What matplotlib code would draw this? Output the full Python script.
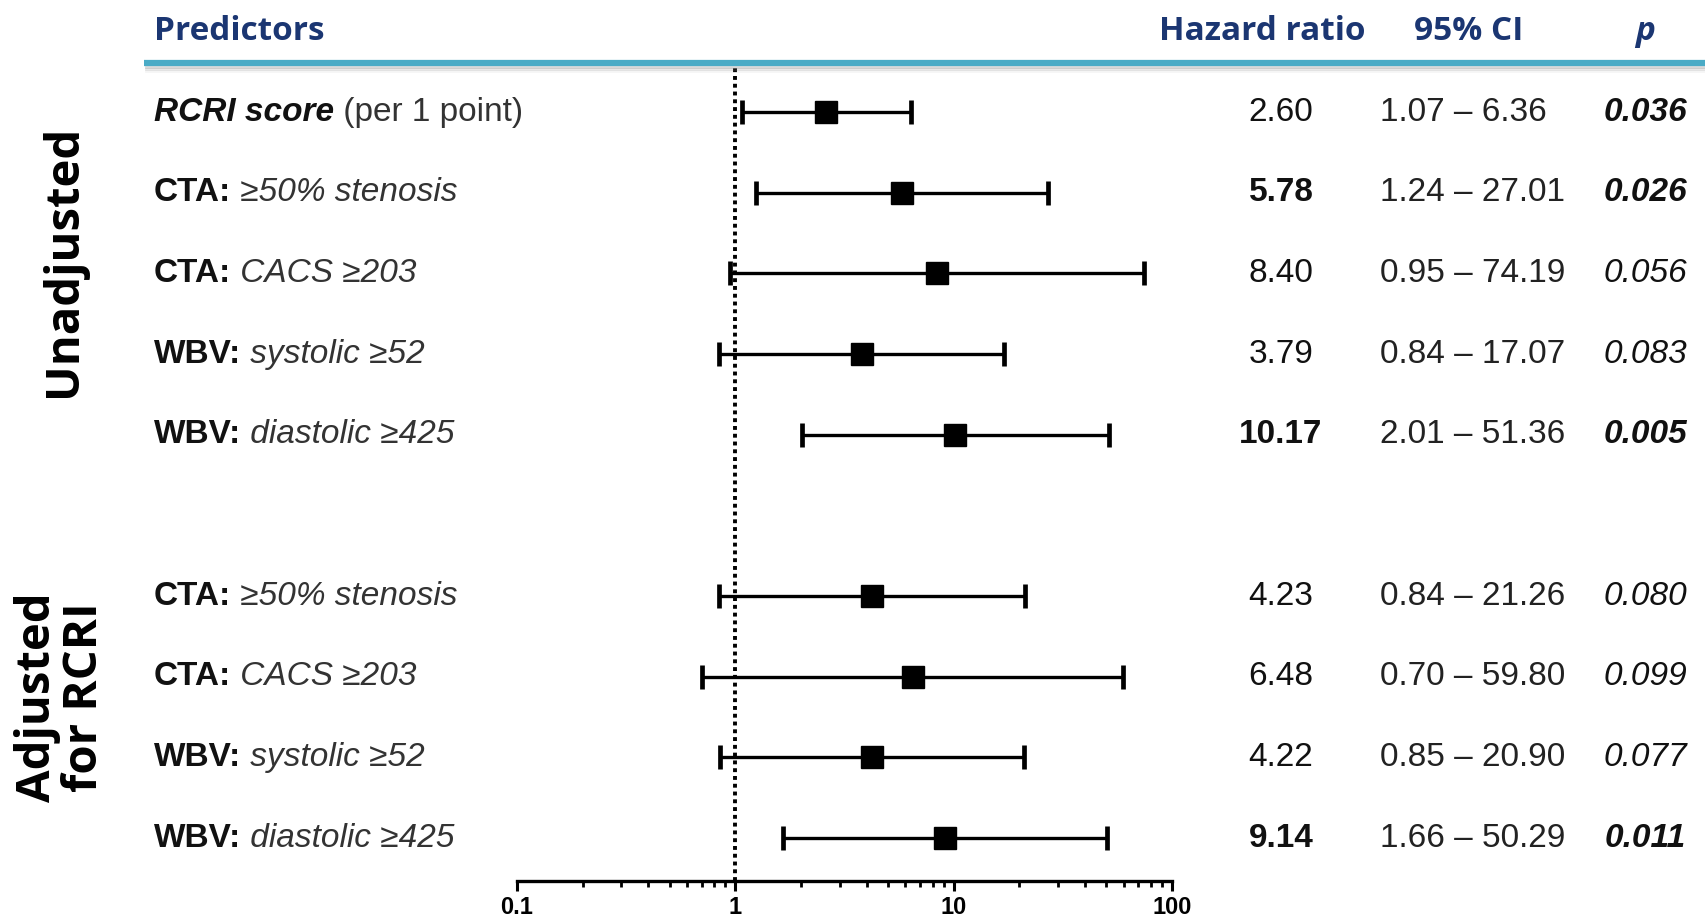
import matplotlib
matplotlib.use("Agg")
import matplotlib.pyplot as plt
import matplotlib.transforms as mtransforms
from matplotlib.lines import Line2D
from matplotlib.ticker import LogLocator, FixedLocator, NullFormatter

W, H = 1706, 919

# data
label_head = ["RCRI score", "CTA:", "CTA:", "WBV:", "WBV:",
              "CTA:", "CTA:", "WBV:", "WBV:"]
label_tail = [" (per 1 point)", " \u226550% stenosis", " CACS \u2265203",
              " systolic \u226552", " diastolic \u2265425",
              " \u226550% stenosis", " CACS \u2265203",
              " systolic \u226552", " diastolic \u2265425"]
row_pos = [0, 1, 2, 3, 4, 6, 7, 8, 9]
hr = [2.60, 5.78, 8.40, 3.79, 10.17, 4.23, 6.48, 4.22, 9.14]
ci_lo = [1.07, 1.24, 0.95, 0.84, 2.01, 0.84, 0.70, 0.85, 1.66]
ci_hi = [6.36, 27.01, 74.19, 17.07, 51.36, 21.26, 59.80, 20.90, 50.29]
p_val = [0.036, 0.026, 0.056, 0.083, 0.005, 0.080, 0.099, 0.077, 0.011]
hr_bold = [False, True, False, False, True, False, False, False, True]
groups = ["Unadjusted", "Adjusted\nfor RCRI"]
group_center = [1.84, 7.25]
headers = ["Predictors", "Hazard ratio", "95% CI", "p"]

NAVY = "#1b3672"
TEAL = "#4aabc6"
TXT = "#111111"
SANS = ["Liberation Sans", "DejaVu Sans"]
HEAD = ["Open Sans", "DejaVu Sans"]
FS = 24

fig = plt.figure(figsize=(W / 100, H / 100), dpi=100)
fig.patch.set_facecolor("white")

# forest axes: log x from 0.1 to 100
ax = fig.add_axes([517 / W, 1 - 881 / H, (1172 - 517) / W, (881 - 67) / H])
ax.set_xscale("log")
ax.set_xlim(0.1, 100)
ax.set_ylim(9.533, -0.558)
for s in ["left", "right", "top"]:
    ax.spines[s].set_visible(False)
ax.spines["bottom"].set_linewidth(2.4)
ax.set_yticks([])
ax.xaxis.set_major_locator(FixedLocator([0.1, 1, 10, 100]))
ax.xaxis.set_minor_locator(LogLocator(base=10, subs=range(2, 10)))
ax.xaxis.set_minor_formatter(NullFormatter())
ax.set_xticklabels(["0.1", "1", "10", "100"])
ax.tick_params(axis="x", which="major", length=7, width=2.2, pad=4)
ax.tick_params(axis="x", which="minor", length=4, width=2.0)
for lab in ax.get_xticklabels():
    lab.set_fontfamily(["Liberation Sans Narrow", "Liberation Sans"])
    lab.set_fontweight("bold")
    lab.set_fontsize(17)

ax.axvline(1, color="black", lw=2.8, ls=(0, (1, 1)), zorder=1)

xerr = [[h - l for h, l in zip(hr, ci_lo)], [u - h for h, u in zip(hr, ci_hi)]]
ax.errorbar(hr, row_pos, xerr=xerr, fmt="s", color="black", ms=15.5,
            elinewidth=2.4, capsize=8.5, capthick=3.4, zorder=3)

# text columns (x in figure fraction, y in data rows)
tr = mtransforms.blended_transform_factory(fig.transFigure, ax.transData)

for i, y in enumerate(row_pos):
    if i == 0:
        t1 = ax.text(154 / W, y, label_head[i], transform=tr, fontsize=FS,
                     family=SANS, weight="bold", style="italic", color=TXT,
                     va="center", ha="left")
        ax.annotate(label_tail[i], xy=(1, 0), xycoords=t1, fontsize=FS,
                    family=SANS, color="#333333", va="bottom", ha="left")
    else:
        t1 = ax.text(154 / W, y, label_head[i], transform=tr, fontsize=FS,
                     family=SANS, weight="bold", color=TXT,
                     va="center", ha="left")
        ax.annotate(label_tail[i], xy=(1, 0), xycoords=t1, fontsize=FS,
                    family=SANS, style="italic", color="#333333",
                    va="bottom", ha="left")

    ax.text(1281 / W, y, f"{hr[i]:.2f}", transform=tr, fontsize=FS,
            family=SANS, weight="bold" if hr_bold[i] else "normal",
            color=TXT, va="center", ha="center")
    ax.text(1380 / W, y, f"{ci_lo[i]:.2f} \u2013 {ci_hi[i]:.2f}", transform=tr,
            fontsize=FS, family=SANS, color="#222222", va="center", ha="left")
    ax.text(1645 / W, y, f"{p_val[i]:.3f}", transform=tr, fontsize=FS,
            family=SANS, style="italic",
            weight="bold" if p_val[i] < 0.05 else "normal",
            color=TXT, va="center", ha="center")

# group labels
ax.text(64 / W, group_center[0], groups[0], transform=tr, rotation=90,
        fontsize=34, family=HEAD, weight="bold", color="black",
        ha="center", va="center")
ax.text(61 / W, group_center[1], groups[1], transform=tr, rotation=90,
        fontsize=34, family=HEAD, weight="bold", color="black",
        ha="center", va="center", linespacing=1.0, multialignment="center")

# header row
hy = 1 - 32 / H
fig.text(154 / W, hy, headers[0], fontsize=24, family=HEAD, weight="bold",
         color=NAVY, ha="left", va="center")
fig.text(1262 / W, hy, headers[1], fontsize=24, family=HEAD, weight="bold",
         color=NAVY, ha="center", va="center")
fig.text(1469 / W, hy, headers[2], fontsize=24, family=HEAD, weight="bold",
         color=NAVY, ha="center", va="center")
fig.text(1645 / W, hy, headers[3], fontsize=24, family=HEAD, weight="bold",
         style="italic", color=NAVY, ha="center", va="center")

# teal rule with a soft shadow
ly = 1 - 63 / H
for k, a in enumerate([0.3, 0.18, 0.08]):
    fig.add_artist(Line2D([146 / W, 1], [ly - (4 + 2 * k) / H] * 2,
                          transform=fig.transFigure, color="grey",
                          lw=2, alpha=a))
fig.add_artist(Line2D([144 / W, 1], [ly, ly], transform=fig.transFigure,
                      color=TEAL, lw=4.5, solid_capstyle="butt"))

fig.savefig("out.png", dpi=100, facecolor="white")
